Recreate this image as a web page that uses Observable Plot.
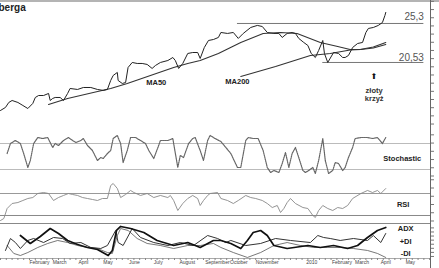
<!DOCTYPE html>
<html><head><meta charset="utf-8">
<script src="https://cdn.jsdelivr.net/npm/d3@7"></script>
<script src="https://cdn.jsdelivr.net/npm/@observablehq/plot@0.6"></script>
<style>
body{margin:0;background:#fff}
#chart{position:relative;width:439px;height:268px;overflow:hidden;background:#fff;font-family:"Liberation Sans",Arial,sans-serif}
#chart svg{position:absolute;left:0}
.topline{position:absolute;left:0;top:0;width:439px;height:2px;background:#b4b4b4}
</style></head>
<body><div id="chart"><div class="topline"></div></div>
<script>
// x = days since 2009-01-01
const title = "berga";
const priceDays = [-4,2,6,10,17,23,29,35,38,42,48,54,56,59,62,68,72,77,80,89,96,105,113,120,125,129,132,137,138,143,147,150,155,161,167,173,179,183,189,198,204,207,211,216,222,228,234,237,242,247,253,259,262,270,277,283,289,298,306,312,318,326,332,336,342,348,352,356,362,367,371,376,380,385,387,391,398,404,409,412,416,421,427,433,437,440,446,452,457,460,461];
const priceValues = [14.66,15.03,15.64,15.88,15.64,15.27,14.9,15.52,16.25,16.49,16.49,16.74,15.88,16.13,16.25,16.25,15.88,16.74,17.35,17.23,17.47,17.47,17.23,17.11,17.23,18.33,18.94,19.31,18.33,17.96,18.08,19.92,20.53,20.41,20.41,20.29,19.8,20.16,20.53,20.77,21.14,20.77,19.8,20.41,21.63,21.75,21.75,21.02,22.36,23.22,23.34,23.59,24.2,24.08,24.2,23.47,24.08,24.81,25.06,24.93,24.2,24.08,24.08,23.59,24.08,24.2,24.08,23.47,22.98,22.61,21.63,21.14,22.0,23.22,21.63,20.53,21.75,21.63,21.14,21.14,21.39,22.36,22.85,22.98,24.2,24.69,24.81,25.06,25.42,26.28,26.65];
const ma50Days = [54,77,108,129,149,177,205,222,237,259,286,313,334,354,382,403,418,430,446,461];
const ma50Values = [15.39,16.13,16.86,17.35,17.96,18.94,19.92,20.41,20.77,21.63,22.98,24.08,24.2,24.08,22.98,22.49,22.12,22.12,22.42,22.98];
const ma200Days = [286,328,370,394,418,431,446,461];
const ma200Values = [18.82,20.04,21.39,21.63,22.05,22.12,22.3,22.73];
const resistance = 25.3;
const support = 20.53;
const stochDays = [4,8,14,20,24,29,32,36,41,47,53,59,62,66,72,78,83,87,93,96,101,107,113,117,120,125,129,132,137,141,144,149,153,159,165,171,175,181,186,189,198,204,205,210,213,217,223,228,231,237,241,246,249,255,262,268,274,282,286,292,295,301,307,313,318,322,326,332,336,340,344,348,352,356,361,364,368,373,376,380,385,388,392,397,400,404,409,412,416,421,424,431,439,445,451,457,461];
const stochValues = [56.9,80,86.9,80,56.9,24.6,40.8,80,93.8,91.5,93.8,70.8,80,75.4,86.9,93.8,86.9,82.3,86.9,91.5,75.4,63.8,40.8,47.7,45.4,56.9,63.8,91.5,98.5,80,36.1,63.8,93.8,93.8,86.9,80,63.8,45.4,70.8,86.9,86.9,91.5,80,24.6,52.3,47.7,80,91.5,93.8,63.8,40.8,86.9,98.5,91.5,84.6,70.8,56.9,24.6,24.6,86.9,93.8,91.5,91.5,63.8,24.6,13.1,17.7,13.1,33.8,59.2,24.6,56.9,70.8,47.7,17.7,13.1,17.7,24.6,10.8,40.8,91.5,40.8,10.8,17.7,36.1,33.8,17.7,24.6,47.7,70.8,91.5,93.8,93.8,91.5,93.8,80,93.8];
const rsiDays = [-4,0,4,10,17,23,29,35,41,48,54,60,66,72,78,83,89,95,101,107,113,119,125,129,132,137,141,147,153,157,165,173,181,189,198,201,205,210,216,222,228,234,237,241,246,249,258,262,270,277,283,292,298,304,312,318,324,330,334,338,342,346,352,361,367,373,376,380,385,391,397,403,409,415,421,431,439,445,451,455,461];
const rsiValues = [20.9,24.5,42.7,51.8,53.6,57.3,60.9,62.7,70,71.8,70,57.3,62.7,66.4,70,68.2,66.4,62.7,60.9,59.1,57.3,60.9,60.9,84.5,88.2,79.1,62.7,68.2,75.5,71.8,66.4,70,62.7,66.4,62.7,66.4,57.3,39.1,51.8,60.9,66.4,60.9,48.2,57.3,66.4,70,71.8,60.9,57.3,51.8,57.3,66.4,62.7,60.9,57.3,51.8,44.5,48.2,35.5,42.7,53.6,60.9,51.8,44.5,42.7,30,26.4,39.1,48.2,42.7,39.1,44.5,42.7,48.2,60.9,70,75.5,71.8,75.5,70,79.1];
const adxDays = [20,32,44,56,66,77,89,101,113,126,131,136,141,153,169,185,205,222,237,253,262,274,286,294,301,310,318,326,342,367,382,398,415,427,439,451,461];
const adxValues = [38.8,27.1,37.4,49.1,41.8,31.5,25.6,21.2,18.2,9.4,16.8,46.2,52.1,49.1,43.2,31.5,24.1,28.5,21.2,31.5,31.5,27.1,19.7,31.5,43.2,46.2,38.8,24.1,19.7,24.1,21.2,24.1,19.7,24.1,35.9,46.2,50.6];
const pdiDays = [2,8,14,20,29,36,48,60,71,80,93,105,117,125,135,138,144,155,165,181,198,213,229,246,258,268,274,292,310,328,346,370,379,386,394,406,422,439,446,455,461];
const pdiValues = [16.8,34.4,28.5,19.7,31.5,34.4,28.5,35.9,34.4,27.1,28.5,21.2,19.7,24.1,46.2,28.5,24.1,49.1,35.9,28.5,24.1,28.5,24.1,38.8,34.4,28.5,31.5,24.1,27.1,34.4,31.5,28.5,38.8,35.9,34.4,31.5,34.4,31.5,38.8,28.5,41.8];
const mdiDays = [4,12,20,29,41,53,65,77,89,101,113,125,131,137,141,150,161,173,189,205,222,237,253,262,277,294,310,326,342,358,374,391,406,422,439,451,461];
const mdiValues = [24.1,12.4,9.4,13.8,21.2,27.1,31.5,28.5,24.1,21.2,19.7,13.8,12.4,38.8,49.1,46.2,34.4,27.1,24.1,19.7,24.1,24.1,27.1,21.2,13.8,6.5,13.8,24.1,28.5,24.1,21.2,21.2,21.2,19.7,16.8,12.4,6.5];
const monthTicks = [31,59,90,120,151,181,212,243,273,304,365,396,424,455,485];
const monthLabels = ["February","March","April","May","June","July","August","September","October","November","2010","February","March","April","May"];

const rows = (ds, vs) => ds.map((d, i) => ({d, v: vs[i]}));
const price = rows(priceDays, priceValues);
const ma50 = rows(ma50Days, ma50Values);
const ma200 = rows(ma200Days, ma200Values);
const stoch = rows(stochDays, stochValues);
const rsi = rows(rsiDays, rsiValues);
const adx = rows(adxDays, adxValues);
const pdi = rows(pdiDays, pdiValues);
const mdi = rows(mdiDays, mdiValues);
const labelOf = new Map(monthTicks.map((t, i) => [t, monthLabels[i]]));

const X = {domain: [-4, 515], axis: null, label: null};
const FONT = '"Liberation Sans", Arial, sans-serif';
const base = {width: 439, marginLeft: 0, marginRight: 9, x: X,
  style: {fontFamily: FONT, background: "transparent", overflow: "visible"}};
const rightAxis = (ticks) => [
  Plot.ruleX([515], {stroke: "#666"}),
  Plot.axisY({anchor: "right", label: null, ticks, tickSize: 3, tickFormat: () => "", stroke: "#777"})
];
const chart = document.getElementById("chart");
function add(svg, top) { svg.style.top = top + "px"; chart.appendChild(svg); }

// Price panel
add(Plot.plot({...base, height: 130, marginTop: 0, marginBottom: 0,
  y: {domain: [12.21, 28.11], axis: null, label: null},
  marks: [
    Plot.ruleY([resistance], {x1: 282, x2: 507, stroke: "#777"}),
    Plot.ruleY([support], {x1: 385, x2: 507, stroke: "#777"}),
    Plot.line(ma200, {x: "d", y: "v", stroke: "#333", strokeWidth: 1.1}),
    Plot.line(ma50, {x: "d", y: "v", stroke: "#333", strokeWidth: 1.1}),
    Plot.line(price, {x: "d", y: "v", stroke: "#222", strokeWidth: 1}),
    Plot.text([resistance], {x: 507, y: d => d, text: d => String(d).replace(".", ","), textAnchor: "end", dy: -7, fontSize: 10, fill: "#555"}),
    Plot.text([support], {x: 507, y: d => d, text: d => String(d).replace(".", ","), textAnchor: "end", dy: -4.5, fontSize: 10, fill: "#555"}),
    Plot.text([title], {frameAnchor: "top-left", text: d => d, dx: -2, dy: 3, fontSize: 10, fontWeight: "bold", textAnchor: "start", fill: "#222"}),
    Plot.text(["MA50"], {x: 184, y: 18.08, text: d => d, fontSize: 7.5, fontWeight: "bold", fill: "#222"}),
    Plot.text(["MA200"], {x: 282, y: 18.2, text: d => d, fontSize: 7.5, fontWeight: "bold", fill: "#222"}),
    Plot.text(["⬆"], {x: 447, y: 18.82, text: d => d, fontSize: 8, fill: "#111", fontFamily: "DejaVu Sans"}),
    Plot.text(["złoty"], {x: 447, y: 17.1, text: d => d, fontSize: 7.5, fontWeight: "bold", fill: "#333"}),
    Plot.text(["krzyż"], {x: 447, y: 16.07, text: d => d, fontSize: 7.5, fontWeight: "bold", fill: "#333"}),
    ...rightAxis(d3.range(13, 28.1, 1))
  ]}), 0);

// Stochastic panel
add(Plot.plot({...base, height: 47, marginTop: 0, marginBottom: 0,
  y: {domain: [1.54, 110], axis: null, label: null},
  marks: [
    Plot.ruleY([20, 80], {stroke: "#bbb"}),
    Plot.line(stoch, {x: "d", y: "v", stroke: "#666", strokeWidth: 1.2, strokeDasharray: "1.4,0.7"}),
    Plot.text(["Stochastic"], {x: 481, y: 45.4, text: d => d, fontSize: 7.5, fontWeight: "bold", fill: "#222"}),
    ...rightAxis(d3.range(5, 110, 19))
  ]}), 130);

// RSI panel
add(Plot.plot({...base, height: 46, marginTop: 0, marginBottom: 0,
  y: {domain: [15.45, 99.1], axis: null, label: null},
  marks: [
    Plot.ruleY([70], {stroke: "#999"}),
    Plot.ruleY([30], {stroke: "#888"}),
    Plot.line(rsi, {x: "d", y: "v", stroke: "#888", strokeWidth: 0.9}),
    Plot.text(["RSI"], {x: 482, y: 50, text: d => d, fontSize: 7.5, fontWeight: "bold", fill: "#222"}),
    ...rightAxis(d3.range(20, 99, 15))
  ]}), 177);

// ADX panel with time axis
add(Plot.plot({...base, height: 46, marginTop: 1, marginBottom: 10,
  y: {domain: [5, 56.47], axis: null, label: null},
  marks: [
    Plot.frame({anchor: "top", stroke: "#888"}),
    Plot.frame({anchor: "bottom", stroke: "#aaa"}),
    Plot.line(mdi, {x: "d", y: "v", stroke: "#555", strokeWidth: 0.8}),
    Plot.line(pdi, {x: "d", y: "v", stroke: "#333", strokeWidth: 1}),
    Plot.line(adx, {x: "d", y: "v", stroke: "#111", strokeWidth: 1.7}),
    Plot.text(["ADX"], {x: 485, y: 49.1, text: d => d, fontSize: 7.5, fontWeight: "bold", fill: "#222"}),
    Plot.text(["+DI"], {x: 485, y: 30, text: d => d, fontSize: 7.5, fontWeight: "bold", fill: "#222"}),
    Plot.text(["-DI"], {x: 485, y: 12.4, text: d => d, fontSize: 7.5, fontWeight: "bold", fill: "#222"}),
    Plot.axisX({label: null, ticks: d3.range(-4, 515, 7), tickSize: 2, tickFormat: () => "", stroke: "#888"}),
    Plot.axisX({label: null, ticks: monthTicks, tickSize: 0, tickPadding: 2, tickFormat: d => labelOf.get(d), textAnchor: "start", fontSize: 5, fill: "#444"}),
    Plot.ruleX([515], {y1: -10, y2: 56.47, stroke: "#666"}),
    Plot.axisY({anchor: "right", label: null, ticks: d3.range(8, 56, 6), tickSize: 3, tickFormat: () => "", stroke: "#777"})
  ]}), 222);
</script></body></html>
